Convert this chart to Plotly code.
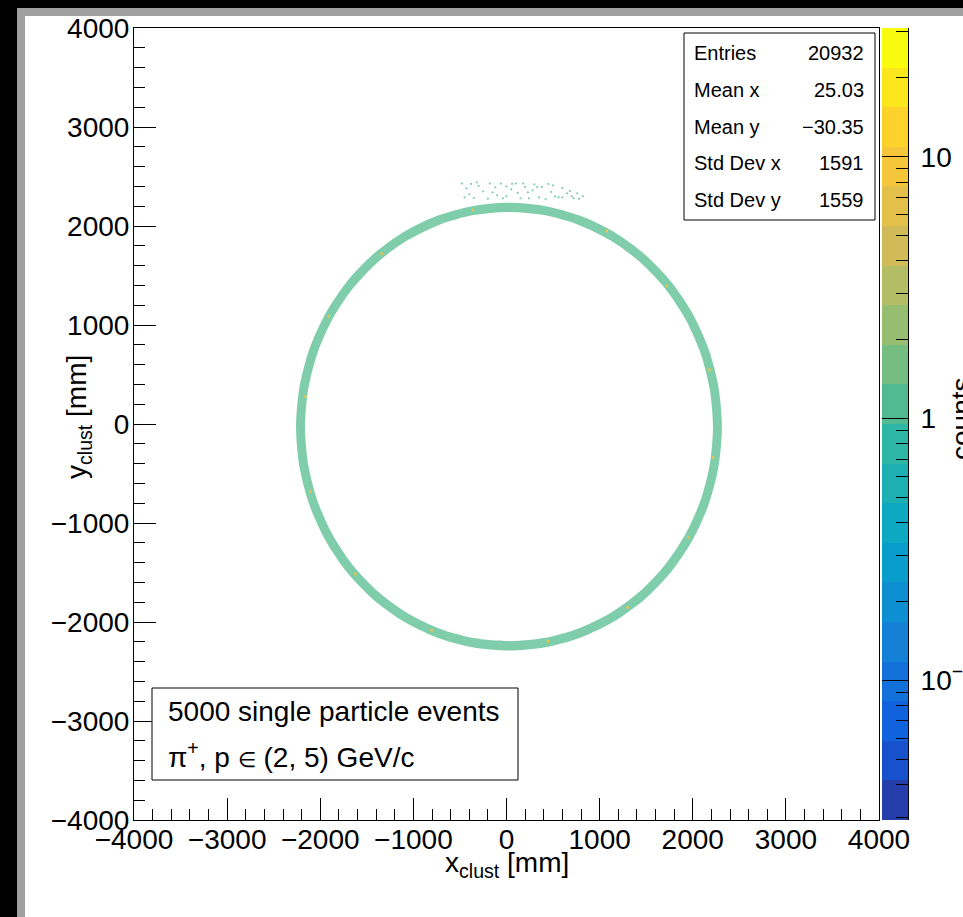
import numpy as np
import plotly.graph_objects as go

# ---------------- data ----------------
# ring of clusters (radius in mm, measured from ring centre)
ring_cx = 25.0
ring_cy = -30.0
ring_angle_deg = [0, 10, 20, 30, 40, 50, 60, 70, 80, 90, 100, 110,
                  120, 130, 140, 150, 160, 170, 180, 190, 200, 210, 220, 230,
                  240, 250, 260, 270, 280, 290, 300, 310, 320, 330, 340, 350]
ring_r_outer = [2288, 2287, 2285, 2282, 2278, 2274, 2270, 2267, 2265, 2264, 2265, 2267,
                2270, 2273, 2276, 2279, 2282, 2284, 2285, 2284, 2282, 2279, 2275, 2271,
                2267, 2263, 2260, 2259, 2260, 2263, 2267, 2271, 2276, 2280, 2284, 2287]
ring_r_inner = [2192, 2191, 2189, 2187, 2184, 2181, 2178, 2175, 2173, 2172, 2173, 2175,
                2177, 2180, 2182, 2184, 2186, 2188, 2189, 2188, 2186, 2183, 2180, 2176,
                2172, 2168, 2165, 2164, 2165, 2168, 2172, 2176, 2180, 2184, 2188, 2191]

# sparse spray above the top of the ring (mm)
spray_x = [-480, -430, -380, -300, -250, -180, -120, -60, 0, 60, 120, 180, 240, 300,
           380, 450, 520, 600, 680, 760, 820, -400, -200, -100, 50, 150, 280, 350,
           480, 560, 650, 720, -350, 0, 200, 420, 600, 780, -450, -150, 100, 330,
           -320, -40, 230, 500, 700]
spray_y = [2430, 2380, 2425, 2405, 2350, 2430, 2390, 2428, 2300, 2425, 2335, 2430, 2280, 2420,
           2395, 2425, 2300, 2385, 2355, 2330, 2300, 2320, 2275, 2310, 2370, 2280, 2360, 2290,
           2345, 2290, 2330, 2280, 2285, 2400, 2395, 2270, 2290, 2275, 2290, 2340, 2430, 2395,
           2440, 2280, 2340, 2410, 2300]

# higher-count specks on the ring (angle deg, radius mm)
speck_angle = [15, 40, 62, 100, 128, 150, 172, 197, 222, 248, 281, 305, 330, 352]
speck_r = [2230, 2215, 2240, 2225, 2220, 2235, 2210, 2230, 2220, 2215, 2205, 2225, 2230, 2215]

# statistics box
stats_labels = ["Entries", "Mean x", "Mean y", "Std Dev x", "Std Dev y"]
stats_values = ["20932", "25.03", "\u221230.35", "1591", "1559"]

# legend text
legend_lines = ["5000 single particle events",
                "\u03c0<sup>+</sup>, p <span style=\"font-size:21px\">\u2208</span> (2, 5) GeV/c"]

# colour axis (log10 of counts)
z_log_min = -1.534
z_log_max = 1.492
n_contours = 20
z_major_vals = [-1, 0, 1]
z_major_text = ["10<sup>\u22121</sup>", "1", "10"]
z_minor_counts = [0.03, 0.04, 0.05, 0.06, 0.07, 0.08, 0.09,
                  0.2, 0.3, 0.4, 0.5, 0.6, 0.7, 0.8, 0.9,
                  2, 3, 4, 5, 6, 7, 8, 9, 20, 30]

# ROOT kBird palette stops
bird = [(0.0000, 0.2082, 0.1664, 0.5293), (0.1250, 0.0592, 0.3599, 0.8684),
        (0.2500, 0.0780, 0.5041, 0.8385), (0.3750, 0.0232, 0.6419, 0.7914),
        (0.5000, 0.1802, 0.7178, 0.6425), (0.6250, 0.5301, 0.7492, 0.4662),
        (0.7500, 0.8186, 0.7328, 0.3499), (0.8750, 0.9956, 0.7862, 0.1968),
        (1.0000, 0.9764, 0.9832, 0.0539)]
bird_scale = [[p, "rgb(%d,%d,%d)" % (round(r * 255), round(g * 255), round(b * 255))]
              for p, r, g, b in bird]

ring_color = "rgb(82,188,142)"
speck_color = "rgb(236,196,72)"

# ---------------- layout geometry (pixels) ----------------
W, H = 963, 917
L, R, T, B = 134, 55, 28, 97
PW = W - L - R
PH = H - T - B


def px(xp):
    return (xp - L) / PW


def py(yp):
    return 1 - (yp - T) / PH


FONT = "Liberation Sans, Arial, Helvetica, sans-serif"

fig = go.Figure()

# ring band: outer disc, inner disc blanked white
th = np.deg2rad(np.array(ring_angle_deg + [360.0]))
ro = np.array(ring_r_outer + [ring_r_outer[0]], dtype=float)
ri = np.array(ring_r_inner + [ring_r_inner[0]], dtype=float)
fig.add_trace(go.Scatter(x=ring_cx + ro * np.cos(th), y=ring_cy + ro * np.sin(th),
                         mode="lines", fill="toself",
                         fillcolor="rgba(82,188,142,0.74)",
                         line=dict(width=0, shape="spline", smoothing=0.8),
                         hoverinfo="skip", showlegend=False))
fig.add_trace(go.Scatter(x=ring_cx + ri * np.cos(th), y=ring_cy + ri * np.sin(th),
                         mode="lines", fill="toself", fillcolor="white",
                         line=dict(width=0, shape="spline", smoothing=0.8),
                         hoverinfo="skip", showlegend=False))

# spray
fig.add_trace(go.Scatter(x=spray_x, y=spray_y, mode="markers",
                         marker=dict(size=1.8, color=ring_color, symbol="square",
                                     opacity=0.8),
                         hoverinfo="skip", showlegend=False))

# specks
sa = np.deg2rad(np.array(speck_angle, dtype=float))
sr = np.array(speck_r, dtype=float)
fig.add_trace(go.Scatter(x=ring_cx + sr * np.cos(sa), y=ring_cy + sr * np.sin(sa),
                         mode="markers",
                         marker=dict(size=2.5, color=speck_color, symbol="square"),
                         hoverinfo="skip", showlegend=False))

# colour bar as a heatmap of contour bands
edges = np.linspace(z_log_min, z_log_max, n_contours + 1)
fig.add_trace(go.Heatmap(x=[0, 1], y=edges, z=[[i + 1] for i in range(n_contours)],
                         colorscale=bird_scale, zmin=0, zmax=n_contours,
                         showscale=False, xaxis="x2", yaxis="y2", hoverinfo="skip"))

axis_common = dict(showgrid=False, zeroline=False, showline=True, mirror=True,
                   linecolor="black", linewidth=1, ticks="inside", ticklen=22,
                   tickwidth=1, tickcolor="black", dtick=1000, automargin=False,
                   tickfont=dict(family=FONT, size=28, color="black"),
                   minor=dict(ticks="inside", ticklen=11, dtick=200,
                              tickcolor="black", tickwidth=1, showgrid=False),
                   range=[-4000, 4000], fixedrange=True)

fig.update_layout(
    width=W, height=H, autosize=False,
    margin=dict(l=L, r=R, t=T, b=B, pad=0, autoexpand=False),
    paper_bgcolor="black", plot_bgcolor="white",
    showlegend=False,
    xaxis=dict(domain=[0, (879 - L) / PW], anchor="y", ticklabelstandoff=-6, **axis_common),
    yaxis=dict(domain=[0, 1], anchor="x", ticklabelstandoff=-2, **axis_common),
    xaxis2=dict(domain=[(882 - L) / PW, 1], anchor="y2", range=[0, 1],
                showticklabels=False, ticks="", showgrid=False, zeroline=False,
                showline=False, fixedrange=True, automargin=False),
    yaxis2=dict(domain=[0, 1], anchor="x2", side="right", range=[z_log_min, z_log_max],
                showgrid=False, zeroline=False, showline=True, linecolor="black",
                linewidth=1, ticks="inside", ticklen=26, tickwidth=1, tickcolor="black",
                tickmode="array", tickvals=z_major_vals, ticktext=z_major_text,
                tickfont=dict(family=FONT, size=28, color="black"),
                ticklabelstandoff=6, automargin=False,
                minor=dict(ticks="inside", ticklen=12, tickcolor="black", tickwidth=1,
                           tickvals=list(np.log10(z_minor_counts)), showgrid=False),
                fixedrange=True),
)

shapes = [
    # canvas frame: grey strip then white canvas
    dict(type="rect", xref="paper", yref="paper", x0=px(17), x1=px(1200),
         y0=py(1200), y1=py(8), fillcolor="rgb(160,160,160)", line=dict(width=0),
         layer="below"),
    dict(type="rect", xref="paper", yref="paper", x0=px(25), x1=px(1200),
         y0=py(1200), y1=py(16), fillcolor="white", line=dict(width=0),
         layer="below"),
    # stats box
    dict(type="rect", xref="paper", yref="paper", x0=px(684), x1=px(875),
         y0=py(220), y1=py(33), fillcolor="white", line=dict(color="black", width=1),
         layer="above"),
    # legend box
    dict(type="rect", xref="paper", yref="paper", x0=px(152), x1=px(518),
         y0=py(780), y1=py(688), fillcolor="white", line=dict(color="black", width=1),
         layer="above"),
]
fig.update_layout(shapes=shapes)

ann = []
row_y = [53, 90, 127, 163, 200]
for lab, val, yy in zip(stats_labels, stats_values, row_y):
    ann.append(dict(xref="paper", yref="paper", x=px(692), y=py(yy), text=lab,
                    xanchor="left", yanchor="middle", showarrow=False,
                    font=dict(family=FONT, size=20, color="black")))
    ann.append(dict(xref="paper", yref="paper", x=px(866), y=py(yy), text=val,
                    xanchor="right", yanchor="middle", showarrow=False,
                    font=dict(family=FONT, size=20, color="black")))

for txt, yy in zip(legend_lines, [711, 755]):
    ann.append(dict(xref="paper", yref="paper", x=px(166), y=py(yy), text=txt,
                    xanchor="left", yanchor="middle", showarrow=False,
                    font=dict(family=FONT, size=28, color="black")))

ann.append(dict(xref="paper", yref="paper", x=px(506.5), y=py(864),
                text="x<sub>clust</sub> [mm]", xanchor="center", yanchor="middle",
                showarrow=False, font=dict(family=FONT, size=28, color="black")))
ann.append(dict(xref="paper", yref="paper", x=px(78), y=py(417),
                text="y<sub>clust</sub> [mm]", textangle=-90, xanchor="center",
                yanchor="middle", showarrow=False,
                font=dict(family=FONT, size=28, color="black")))
ann.append(dict(xref="paper", yref="paper", x=px(961), y=py(419),
                text="counts", textangle=-90, xanchor="center", yanchor="middle",
                showarrow=False, font=dict(family=FONT, size=28, color="black")))
fig.update_layout(annotations=ann)

fig.write_html(
    "out.html",
    config={"responsive": False, "displayModeBar": False},
    post_script=("document.documentElement.style.margin='0';"
                 "document.body.style.margin='0';document.body.style.padding='0';"
                 "document.documentElement.style.overflow='hidden';"
                 "document.body.style.overflow='hidden';"),
)
